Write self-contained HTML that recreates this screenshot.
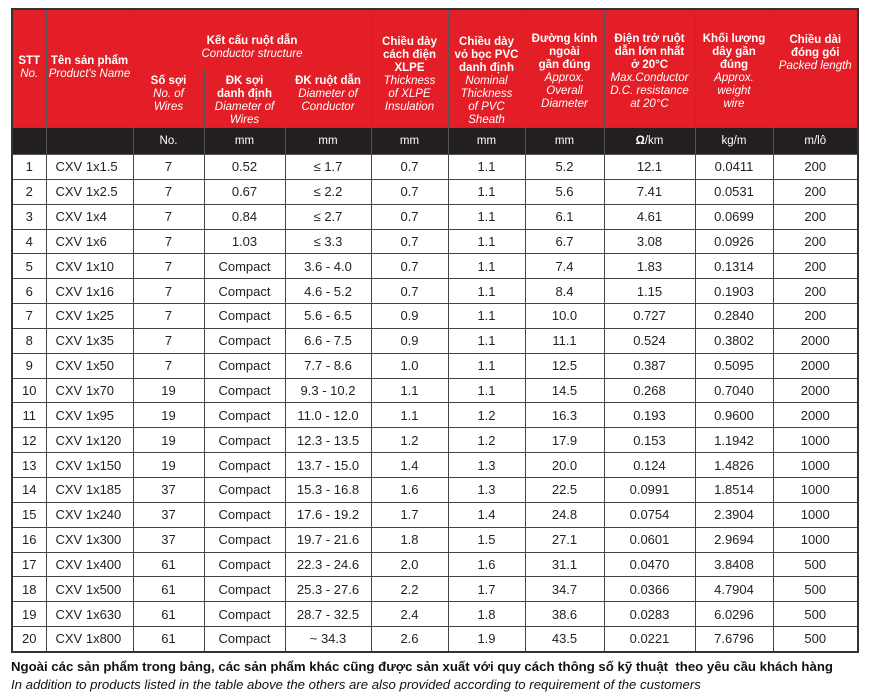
<!DOCTYPE html>
<html><head><meta charset="utf-8"><style>
body{margin:0;background:#fff;width:871px;height:700px;overflow:hidden;font-family:"Liberation Sans",Arial,sans-serif;}
table{position:absolute;left:11px;top:8px;border-collapse:collapse;table-layout:fixed;border:2px solid #333;}
td,th{border:1px solid #444;padding:0;text-align:center;font-size:13px;color:#222;}
thead th{background:#e31e26;color:#fff;font-size:11.5px;line-height:13px;font-weight:bold;border-color:#555;vertical-align:top;}
thead th i{font-weight:normal;}
thead tr.u th{background:#231f20;color:#fff;font-weight:normal;font-size:11.5px;height:26px;vertical-align:middle;}
tbody td{height:23.85px;}
td.n{text-align:left;padding-left:9px;}
.f{position:absolute;left:11px;font-size:13.2px;color:#111;white-space:nowrap;}
</style></head><body>
<table>
<colgroup><col style="width:34px"><col style="width:87px"><col style="width:71px"><col style="width:81px"><col style="width:86px"><col style="width:77px"><col style="width:77px"><col style="width:79px"><col style="width:91px"><col style="width:78px"><col style="width:85px"></colgroup>
<thead>
<tr style="height:60px"><th rowspan="2" style="padding-top:45px">STT<br><i>No.</i></th><th rowspan="2" style="padding-top:45px">Tên sản phẩm<br><i>Product's Name</i></th><th colspan="3" style="padding-top:25px">Kết cấu ruột dẫn<br><i>Conductor structure</i></th><th rowspan="2" style="padding-top:26px">Chiều dày<br>cách điện<br>XLPE<br><i>Thickness<br>of XLPE<br>Insulation</i></th><th rowspan="2" style="padding-top:26px">Chiều dày<br>vỏ bọc PVC<br>danh định<br><i>Nominal<br>Thickness<br>of PVC<br>Sheath</i></th><th rowspan="2" style="padding-top:23px">Đường kính<br>ngoài<br>gần đúng<br><i>Approx.<br>Overall<br>Diameter</i></th><th rowspan="2" style="padding-top:23px">Điện trở ruột<br>dẫn lớn nhất<br>ở 20°C<br><i>Max.Conductor<br>D.C. resistance<br>at 20°C</i></th><th rowspan="2" style="padding-top:23px">Khối lượng<br>dây gần<br>đúng<br><i>Approx.<br>weight<br>wire</i></th><th rowspan="2" style="padding-top:24px">Chiều dài<br>đóng gói<br><i>Packed length</i></th></tr>
<tr style="height:58px"><th style="padding-top:5px">Số sợi<br><i>No. of<br>Wires</i></th><th style="padding-top:5px">ĐK sợi<br>danh định<br><i>Diameter of<br>Wires</i></th><th style="padding-top:5px">ĐK ruột dẫn<br><i>Diameter of<br>Conductor</i></th></tr>
<tr class="u"><th></th><th></th><th>No.</th><th>mm</th><th>mm</th><th>mm</th><th>mm</th><th>mm</th><th><b>Ω</b>/km</th><th>kg/m</th><th>m/lô</th></tr>
</thead>
<tbody>
<tr><td>1</td><td class="n">CXV 1x1.5</td><td>7</td><td>0.52</td><td>≤ 1.7</td><td>0.7</td><td>1.1</td><td>5.2</td><td>12.1</td><td>0.0411</td><td>200</td></tr>
<tr><td>2</td><td class="n">CXV 1x2.5</td><td>7</td><td>0.67</td><td>≤ 2.2</td><td>0.7</td><td>1.1</td><td>5.6</td><td>7.41</td><td>0.0531</td><td>200</td></tr>
<tr><td>3</td><td class="n">CXV 1x4</td><td>7</td><td>0.84</td><td>≤ 2.7</td><td>0.7</td><td>1.1</td><td>6.1</td><td>4.61</td><td>0.0699</td><td>200</td></tr>
<tr><td>4</td><td class="n">CXV 1x6</td><td>7</td><td>1.03</td><td>≤ 3.3</td><td>0.7</td><td>1.1</td><td>6.7</td><td>3.08</td><td>0.0926</td><td>200</td></tr>
<tr><td>5</td><td class="n">CXV 1x10</td><td>7</td><td>Compact</td><td>3.6 - 4.0</td><td>0.7</td><td>1.1</td><td>7.4</td><td>1.83</td><td>0.1314</td><td>200</td></tr>
<tr><td>6</td><td class="n">CXV 1x16</td><td>7</td><td>Compact</td><td>4.6 - 5.2</td><td>0.7</td><td>1.1</td><td>8.4</td><td>1.15</td><td>0.1903</td><td>200</td></tr>
<tr><td>7</td><td class="n">CXV 1x25</td><td>7</td><td>Compact</td><td>5.6 - 6.5</td><td>0.9</td><td>1.1</td><td>10.0</td><td>0.727</td><td>0.2840</td><td>200</td></tr>
<tr><td>8</td><td class="n">CXV 1x35</td><td>7</td><td>Compact</td><td>6.6 - 7.5</td><td>0.9</td><td>1.1</td><td>11.1</td><td>0.524</td><td>0.3802</td><td>2000</td></tr>
<tr><td>9</td><td class="n">CXV 1x50</td><td>7</td><td>Compact</td><td>7.7 - 8.6</td><td>1.0</td><td>1.1</td><td>12.5</td><td>0.387</td><td>0.5095</td><td>2000</td></tr>
<tr><td>10</td><td class="n">CXV 1x70</td><td>19</td><td>Compact</td><td>9.3 - 10.2</td><td>1.1</td><td>1.1</td><td>14.5</td><td>0.268</td><td>0.7040</td><td>2000</td></tr>
<tr><td>11</td><td class="n">CXV 1x95</td><td>19</td><td>Compact</td><td>11.0 - 12.0</td><td>1.1</td><td>1.2</td><td>16.3</td><td>0.193</td><td>0.9600</td><td>2000</td></tr>
<tr><td>12</td><td class="n">CXV 1x120</td><td>19</td><td>Compact</td><td>12.3 - 13.5</td><td>1.2</td><td>1.2</td><td>17.9</td><td>0.153</td><td>1.1942</td><td>1000</td></tr>
<tr><td>13</td><td class="n">CXV 1x150</td><td>19</td><td>Compact</td><td>13.7 - 15.0</td><td>1.4</td><td>1.3</td><td>20.0</td><td>0.124</td><td>1.4826</td><td>1000</td></tr>
<tr><td>14</td><td class="n">CXV 1x185</td><td>37</td><td>Compact</td><td>15.3 - 16.8</td><td>1.6</td><td>1.3</td><td>22.5</td><td>0.0991</td><td>1.8514</td><td>1000</td></tr>
<tr><td>15</td><td class="n">CXV 1x240</td><td>37</td><td>Compact</td><td>17.6 - 19.2</td><td>1.7</td><td>1.4</td><td>24.8</td><td>0.0754</td><td>2.3904</td><td>1000</td></tr>
<tr><td>16</td><td class="n">CXV 1x300</td><td>37</td><td>Compact</td><td>19.7 - 21.6</td><td>1.8</td><td>1.5</td><td>27.1</td><td>0.0601</td><td>2.9694</td><td>1000</td></tr>
<tr><td>17</td><td class="n">CXV 1x400</td><td>61</td><td>Compact</td><td>22.3 - 24.6</td><td>2.0</td><td>1.6</td><td>31.1</td><td>0.0470</td><td>3.8408</td><td>500</td></tr>
<tr><td>18</td><td class="n">CXV 1x500</td><td>61</td><td>Compact</td><td>25.3 - 27.6</td><td>2.2</td><td>1.7</td><td>34.7</td><td>0.0366</td><td>4.7904</td><td>500</td></tr>
<tr><td>19</td><td class="n">CXV 1x630</td><td>61</td><td>Compact</td><td>28.7 - 32.5</td><td>2.4</td><td>1.8</td><td>38.6</td><td>0.0283</td><td>6.0296</td><td>500</td></tr>
<tr><td>20</td><td class="n">CXV 1x800</td><td>61</td><td>Compact</td><td>~ 34.3</td><td>2.6</td><td>1.9</td><td>43.5</td><td>0.0221</td><td>7.6796</td><td>500</td></tr>
</tbody></table>
<div class="f" style="top:659px;font-weight:bold">Ngoài các sản phẩm trong bảng, các sản phẩm khác cũng được sản xuất với quy cách thông số kỹ thuật &nbsp;theo yêu cầu khách hàng</div>
<div class="f" style="top:677px;font-style:italic">In addition to products listed in the table above the others are also provided according to requirement of the customers</div>
</body></html>
